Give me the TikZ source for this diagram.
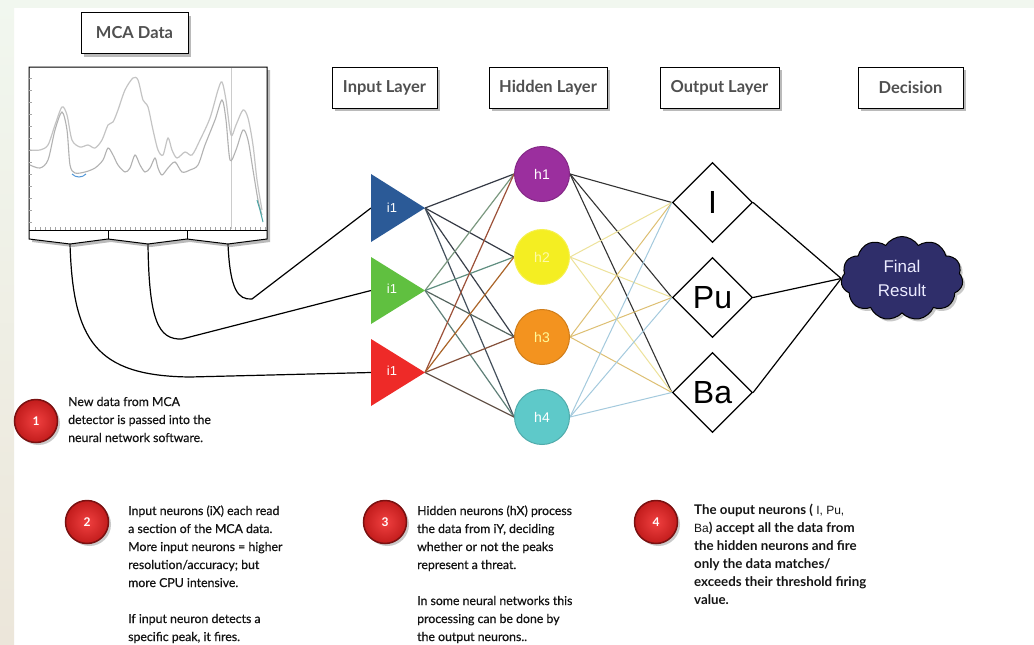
\documentclass[tikz,border=0pt]{standalone}
\usepackage{fontspec}
\setmainfont{Lato}
\newfontfamily\notefont[FakeBold=0.5]{Lato}
\newfontfamily\arial{Liberation Sans}
\usetikzlibrary{shapes.geometric,shapes.symbols,shadows,backgrounds}
\definecolor{hdrgray}{HTML}{505050}
\definecolor{txt}{HTML}{141414}
\definecolor{cB}{HTML}{2B5A97}
\definecolor{cG}{HTML}{60C040}
\definecolor{cR}{HTML}{EE2A28}
\definecolor{cP}{HTML}{9B2F9E}
\definecolor{cY}{HTML}{F4EE22}
\definecolor{cO}{HTML}{F3931F}
\definecolor{cC}{HTML}{5EC9C9}
\definecolor{navy}{HTML}{2F2E6A}
\definecolor{ballin}{HTML}{F04040}
\definecolor{ballout}{HTML}{C21C1C}
\definecolor{ballrim}{HTML}{7A1111}
\definecolor{beige}{HTML}{ECE6DA}
\definecolor{mint}{HTML}{F1F7EF}
\definecolor{chartgray}{HTML}{C4C4C4}
\begin{document}
\begin{tikzpicture}[x=1pt,y=-1pt,
  shad/.style={drop shadow={shadow xshift=3pt,shadow yshift=-3pt,opacity=.45,fill=black!60}},
  hdr/.style={draw=black,line width=1pt,fill=white,minimum height=41pt,inner sep=0pt,
    font=\fontsize{16.5}{18}\selectfont\bfseries,text=hdrgray,shad},
  hid/.style={circle,minimum size=55pt,inner sep=0pt,line width=1pt,
    font=\arial\fontsize{14}{16}\selectfont,text=white},
  dia/.style={diamond,draw=black,line width=1.3pt,fill=white,minimum width=80pt,
    minimum height=80pt,inner sep=0pt,font=\arial\fontsize{32}{34}\selectfont},
  tlab/.style={font=\arial\fontsize{13}{15}\selectfont,text=white,inner sep=0pt},
  conn/.style={draw=black,line width=1.2pt},
  wire/.style={line width=1.2pt},
  ball/.style={circle,minimum size=43pt,inner sep=0pt,inner color=ballin,outer color=ballout,
    draw=ballrim,line width=1.5pt,text=white,font=\fontsize{12}{14}\selectfont\bfseries,
    drop shadow={shadow xshift=2.5pt,shadow yshift=-2.5pt,opacity=.35,fill=black!60}},
  note/.style={anchor=base west,align=left,inner sep=0pt,text=txt,
    font=\notefont\fontsize{12.3}{18}\selectfont}
]
\useasboundingbox (0,0) rectangle (1034,645);
\begin{pgfonlayer}{background}
\fill[white] (0,0) rectangle (1034,645);
\fill[mint] (0,0) rectangle (1034,8);
\shade[top color=mint,bottom color=beige] (0,0) rectangle (14,645);
\end{pgfonlayer}

% ---------- chart ----------
\filldraw[fill=white,draw=black,line width=1pt,shad]
  (29,67) -- (267,67) -- (267,239) -- (228,244) -- (187,239) -- (148,244)
  -- (108,239) -- (70,244) -- (29,239) -- cycle;
\draw[black,line width=1pt] (29,230) -- (267,230) (108,230) -- (108,239) (187,230) -- (187,239);
\draw[black!20,line width=0.6pt] (231,68) -- (231,229);
\foreach \yy in {78,90,102,114,126,138,150,162,174,186,198,210,222}
  \draw[black!35,line width=0.4pt] (29,\yy) -- (32,\yy);
\foreach \xx in {35,40,...,265}
  \draw[black!35,line width=0.4pt] (\xx,227) -- (\xx,230);
\draw[chartgray,line width=1.2pt] plot[smooth,tension=0.5] coordinates {
 (30,150) (40,150) (48,145) (55,125) (62,107) (67,115) (72,140) (80,147) (88,145)
 (95,148) (102,140) (108,125) (113,122) (118,110) (125,90) (133,78) (138,80) (143,100)
 (148,107) (153,130) (158,150) (163,155) (168,138) (172,150) (177,158) (185,152)
 (192,155) (200,140) (210,118) (218,90) (222,82) (226,100) (231,135) (236,125)
 (243,110) (248,118) (253,145) (257,180) (262,210)};
\draw[black!30,line width=1.1pt] plot[smooth,tension=0.5] coordinates {
 (30,165) (40,168) (48,160) (55,130) (62,112) (67,130) (70,165) (75,173) (85,172)
 (95,168) (103,160) (108,148) (113,155) (118,165) (125,172) (130,168) (135,155)
 (140,165) (145,172) (150,168) (155,158) (158,168) (162,175) (168,168) (175,162)
 (182,172) (190,170) (198,165) (205,145) (215,120) (222,100) (226,120) (230,160)
 (236,150) (243,130) (248,140) (253,170) (258,200) (262,215)};
\draw[cyan!60!blue!70,line width=1pt] (72,174) .. controls (76,178) and (82,178) .. (86,174);
\draw[teal!70,line width=1pt] (257,200) -- (260,210) -- (263,222);

\coordinate (v1) at (70,244);
\coordinate (v2) at (148,244);
\coordinate (v3) at (228,244);

% ---------- header boxes ----------
\node[hdr,minimum width=107pt] (hMCA) at (134.5,33) {MCA Data};
\node[hdr,minimum width=105pt] (hIn) at (384.5,87.5) {Input Layer};
\node[hdr,minimum width=118pt] (hHid) at (548,87.5) {Hidden Layer};
\node[hdr,minimum width=119pt] (hOut) at (719.5,87.5) {Output Layer};
\node[hdr,minimum width=105pt] (hDec) at (910.5,87.5) {Decision};

% ---------- input triangle anchors ----------
\coordinate (i1w) at (371,208);
\coordinate (i2w) at (371,290.5);
\coordinate (i3w) at (371,372.5);
\coordinate (i1t) at (425,208);
\coordinate (i2t) at (425,290.5);
\coordinate (i3t) at (425,372.5);

% ---------- hidden neurons ----------
\node[hid,fill=cP,draw=cP!85!black] (h1) at (542,174) {h1};
\node[hid,fill=cY,draw=cY!80!white,text=yellow!35!white] (h2) at (542,257) {h2};
\node[hid,fill=cO,draw=cO!85!black,text=yellow!40!white] (h3) at (542,337) {h3};
\node[hid,fill=cC,draw=cC!85!black] (h4) at (542,417) {h4};

% ---------- output diamonds ----------
\node[dia] (dI) at (712.5,202.5) {I};
\node[dia] (dPu) at (712.5,297.5) {Pu};
\node[dia] (dBa) at (712.5,392.5) {Ba};

% ---------- cloud ----------
\node[cloud,cloud puffs=11,cloud puff arc=115,aspect=1.5,draw=black,line width=1pt,
  fill=navy,minimum width=122pt,minimum height=84pt,inner sep=0pt,align=center,
  text=white!92!blue,font=\arial\fontsize{17}{24}\selectfont,
  drop shadow={shadow xshift=2.5pt,shadow yshift=-2.5pt,opacity=.35,fill=black!60}]
  (cl) at (902,278.5) {Final\\Result};

% ---------- connectors (behind) ----------
\begin{pgfonlayer}{background}
\draw[conn] (v1) .. controls (73,340) and (95,376) .. (190,377) -- (i3w);
\draw[conn] (v2) .. controls (149,320) and (158,340) .. (182,339) -- (i2w);
\draw[conn] (v3) .. controls (230,290) and (238,300) .. (252,299) -- (i1w);
% input -> hidden
\foreach \s/\t/\c in {
  i1t/h1/353A45, i1t/h2/353A45, i1t/h3/3A404A, i1t/h4/44505C,
  i2t/h1/7A987F, i2t/h2/5F8E80, i2t/h3/55655F, i2t/h4/5F8078,
  i3t/h1/9C5038, i3t/h2/AA6428, i3t/h3/84503A, i3t/h4/66564C}
{ \definecolor{wc}{HTML}{\c}
  \draw[wire,wc] (\s) -- (\t.west); }
% hidden -> output
\foreach \s/\c/\w in {h1/333333/1.1pt, h2/EDE29A/1pt, h3/DDBF72/1pt, h4/A4CADD/1pt}
{ \definecolor{wc}{HTML}{\c}
  \foreach \t in {dI,dPu,dBa}
    \draw[line width=\w,wc] (\s.east) -- (\t.west); }
% output -> decision
\foreach \t in {dI,dPu,dBa}
  \draw[black,line width=1.2pt] (\t.east) -- (cl.west);
\end{pgfonlayer}

% triangles drawn on top of wires
\fill[cB] (371,174) -- (425,208) -- (371,242) -- cycle;
\fill[cG] (371,257) -- (425,290.5) -- (371,324) -- cycle;
\fill[cR] (371,339) -- (425,372.5) -- (371,406) -- cycle;
\node[tlab] (l1) at (392,208) {i1};
\node[tlab] (l2) at (392,289) {i1};
\node[tlab] (l3) at (392,371) {i1};

% ---------- notes ----------
\node[ball] (b1) at (36,421) {1};
\node[ball] (b2) at (87,522) {2};
\node[ball] (b3) at (385,522) {3};
\node[ball] (b4) at (656,522) {4};

\node[note] (n1) at (68,442) {New data from MCA\\detector is passed into the\\neural network software.};
\node[note] (n2) at (128,641) {Input neurons (iX) each read\\a section of the MCA data.\\More input neurons = higher\\resolution/accuracy; but\\more CPU intensive.\\[18pt]If input neuron detects a\\specific peak, it fires.};
\node[note] (n3) at (417,641) {Hidden neurons (hX) process\\the data from iY, deciding\\whether or not the peaks\\represent a threat.\\[18pt]In some neural networks this\\processing can be done by\\the output neurons..};
\node[note,font=\fontsize{13.3}{18}\selectfont\bfseries] (n4) at (694,604) {The ouput neurons ( {\arial\mdseries\fontsize{12}{18}\selectfont I, Pu,}\\{\arial\mdseries\fontsize{12}{18}\selectfont Ba}) accept all the data from\\the hidden neurons and fire\\only the data matches/\\exceeds their threshold firing\\value.};
\end{tikzpicture}
\end{document}
